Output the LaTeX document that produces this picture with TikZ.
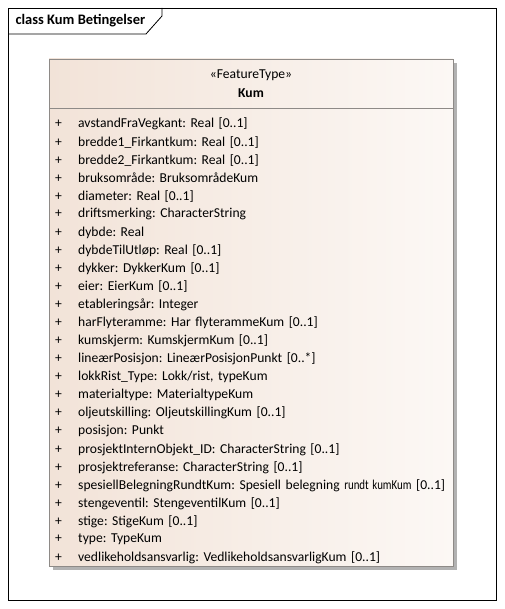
\documentclass[tikz,border=0pt]{standalone}
\usepackage{fontspec}
\setmainfont{Carlito}
\usetikzlibrary{chains,positioning}
\definecolor{kumfill}{HTML}{F2E3D8}
\definecolor{kumfill2}{HTML}{FCF8F5}
\definecolor{kumline}{HTML}{8E8A87}
\tikzset{
	attr/.style={
		rectangle,
		inner sep=0pt,
		text width=440pt,
		align=left,
		minimum height=17.67pt,
		font=\fontsize{13.6}{15}\selectfont,
		on chain},
	klasse/.style={
		draw=kumline,
		left color=kumfill,
		right color=kumfill2},
}
\newcommand{\pluss}[1]{\makebox[23pt][l]{+}#1}
\frenchspacing

\begin{document}
\begin{tikzpicture}
			[x=1pt, y=-1pt, node distance=0pt, start chain=going below,]
	\useasboundingbox (0,0) rectangle (504,609);
	% ramme
	\draw[thick] (8,8) rectangle (496,600);
	\draw[thick] (8,34) -- (146,34) -- (162,16) -- (162,8);
	\node[anchor=west, font=\fontsize{14.5}{16}\selectfont\bfseries] (tittel) at (12,21) {class Kum Betingelser};
	% klasse
	\fill[black!30] (53,63) rectangle (457,570);
	\draw[klasse] (49,59) rectangle (453,566);
	\draw[kumline] (49,108) -- (453,108);
	\node[font=\fontsize{13.6}{15}\selectfont] (stereo) at (251,75) {«FeatureType»};
	\node[font=\fontsize{13.6}{15}\selectfont\bfseries] (navn) at (251,93) {Kum};
	% attributter
	\node[attr, anchor=west] (a1) at (55,124) {\pluss{avstandFraVegkant: Real [0..1]}};
	\node[attr] (a2) {\pluss{bredde1\_Firkantkum: Real [0..1]}};
	\node[attr] (a3) {\pluss{bredde2\_Firkantkum: Real [0..1]}};
	\node[attr] (a4) {\pluss{bruksområde: BruksområdeKum}};
	\node[attr] (a5) {\pluss{diameter: Real [0..1]}};
	\node[attr] (a6) {\pluss{driftsmerking: CharacterString}};
	\node[attr] (a7) {\pluss{dybde: Real}};
	\node[attr] (a8) {\pluss{dybdeTilUtløp: Real [0..1]}};
	\node[attr] (a9) {\pluss{dykker: DykkerKum [0..1]}};
	\node[attr] (a10) {\pluss{eier: EierKum [0..1]}};
	\node[attr] (a11) {\pluss{etableringsår: Integer}};
	\node[attr] (a12) {\pluss{harFlyteramme: Har flyterammeKum [0..1]}};
	\node[attr] (a13) {\pluss{kumskjerm: KumskjermKum [0..1]}};
	\node[attr] (a14) {\pluss{lineærPosisjon: LineærPosisjonPunkt [0..*]}};
	\node[attr] (a15) {\pluss{lokkRist\_Type: Lokk/rist, typeKum}};
	\node[attr] (a16) {\pluss{materialtype: MaterialtypeKum}};
	\node[attr] (a17) {\pluss{oljeutskilling: OljeutskillingKum [0..1]}};
	\node[attr] (a18) {\pluss{posisjon: Punkt}};
	\node[attr] (a19) {\pluss{prosjektInternObjekt\_ID: CharacterString [0..1]}};
	\node[attr] (a20) {\pluss{prosjektreferanse: CharacterString [0..1]}};
	\node[attr] (a21) {\pluss{spesiellBelegningRundtKum: Spesiell belegning \scalebox{0.8}[1]{rundt kumKum} [0..1]}};
	\node[attr] (a22) {\pluss{stengeventil: StengeventilKum [0..1]}};
	\node[attr] (a23) {\pluss{stige: StigeKum [0..1]}};
	\node[attr] (a24) {\pluss{type: TypeKum}};
	\node[attr] (a25) {\pluss{vedlikeholdsansvarlig: VedlikeholdsansvarligKum [0..1]}};
\end{tikzpicture}
\end{document}
